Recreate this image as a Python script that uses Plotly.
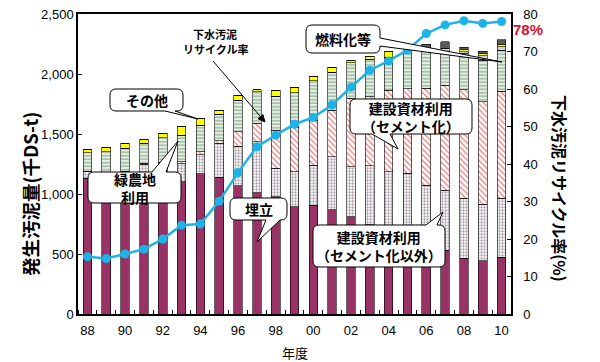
import math
import plotly.graph_objects as go

# ---------------- data ----------------
years = [1988, 1989, 1990, 1991, 1992, 1993, 1994, 1995, 1996, 1997, 1998, 1999,
         2000, 2001, 2002, 2003, 2004, 2005, 2006, 2007, 2008, 2009, 2010]
tick_years = [1988, 1990, 1992, 1994, 1996, 1998, 2000, 2002, 2004, 2006, 2008, 2010]
tick_labels = ["88", "90", "92", "94", "96", "98", "00", "02", "04", "06", "08", "10"]

landfill = [1131, 1110, 1120, 1135, 1130, 1102, 1167, 1139, 1069, 1011, 978, 894,
            908, 867, 811, 742, 737, 640, 580, 533, 464, 444, 472]
cement_other = [55, 60, 65, 115, 130, 152, 161, 286, 331, 425, 236, 292,
                333, 444, 417, 492, 448, 531, 495, 500, 500, 472, 492]
cement = [5, 5, 5, 5, 5, 14, 25, 19, 119, 153, 319, 369,
          375, 389, 569, 578, 681, 708, 806, 875, 903, 852, 894]
green_agri = [153, 178, 192, 167, 204, 222, 222, 222, 264, 264, 283, 289,
              328, 314, 297, 312, 272, 347, 336, 306, 306, 347, 342]
fuel_misc = [0, 0, 0, 0, 0, 0, 0, 0, 0, 0, 0, 0,
             0, 0, 0, 0, 0, 0, 0, 0, 13, 36, 28]
others = [28, 36, 40, 33, 36, 75, 56, 33, 42, 14, 50, 42,
          39, 42, 22, 22, 47, 0, 0, 0, 20, 20, 20]
fuel = [0, 0, 0, 0, 0, 0, 0, 0, 0, 0, 0, 0,
        0, 0, 0, 0, 0, 14, 33, 55, 17, 19, 36]
recycle_rate = [15.3, 14.8, 16.0, 17.3, 20.0, 23.7, 24.0, 30.1, 37.7, 44.6, 47.7, 50.6,
                52.4, 55.8, 60.5, 65.0, 67.5, 70.4, 74.8, 77.1, 78.2, 77.5, 78.0]

# ---------------- layout constants ----------------
W, H = 600, 362
L, R, T, B = 78, 89, 14, 48
PW, PH = W - L - R, H - T - B
JP = "Noto Sans CJK JP"
NUM = "Liberation Sans, Arial, " + JP


def px(x):
    return (x - L) / PW


def py(y):
    return (T + PH - y) / PH


def P(x, y):
    return f"{px(x):.5f},{py(y):.5f}"


fig = go.Figure()
BW = 0.46
edge = dict(color="black", width=0.6)

fig.add_bar(x=years, y=landfill, name="埋立", width=BW,
            marker=dict(color="#993366", line=edge))
fig.add_bar(x=years, y=cement_other, name="建設資材利用（セメント化以外）", width=BW,
            marker=dict(color="white", line=edge,
                        pattern=dict(shape=".", fgcolor="#a8a0a8", bgcolor="white",
                                     size=3, solidity=0.45)))
fig.add_bar(x=years, y=cement, name="建設資材利用（セメント化）", width=BW,
            marker=dict(color="white", line=edge,
                        pattern=dict(shape="\\", fgcolor="#e87878", bgcolor="white",
                                     size=4, solidity=0.3)))
fig.add_bar(x=years, y=green_agri, name="緑農地利用", width=BW,
            marker=dict(color="#dcebdc", line=edge,
                        pattern=dict(shape="-", fgcolor="#8fae92", bgcolor="#e2eee2",
                                     size=3.5, solidity=0.35)))
fig.add_bar(x=years, y=fuel_misc, name="燃料化等（その他）", width=BW,
            marker=dict(color="#cfcff2", line=edge))
fig.add_bar(x=years, y=others, name="その他", width=BW,
            marker=dict(color="#ffff00", line=edge))
fig.add_bar(x=years, y=fuel, name="燃料化等", width=BW,
            marker=dict(color="#5a5a5a", line=edge))

fig.add_scatter(x=years, y=recycle_rate, yaxis="y2", name="下水汚泥リサイクル率",
                mode="lines+markers",
                line=dict(color="#1cb3ea", width=2.5),
                marker=dict(color="#1cb3ea", size=9, symbol="circle"))

fig.update_layout(
    template="none",
    width=W, height=H,
    margin=dict(l=L, r=R, t=T, b=B, autoexpand=False),
    barmode="stack",
    showlegend=False,
    plot_bgcolor="white", paper_bgcolor="white",
    font=dict(family=NUM, size=13, color="black"),
    xaxis=dict(range=[1987.5, 2010.5], tickvals=tick_years, ticktext=tick_labels,
               ticks="", showgrid=False, zeroline=False, automargin=False,
               showline=True, linecolor="black", linewidth=1.5, mirror=True,
               ticklabelstandoff=4,
               minor=dict(tickmode="linear", tick0=1987.5, dtick=1, ticks="inside",
                          ticklen=4, tickcolor="black", showgrid=False),
               tickfont=dict(family=NUM, size=13)),
    yaxis=dict(range=[0, 2500], dtick=500, tickformat=",", ticks="inside",
               ticklen=4, tickcolor="black", showgrid=False, zeroline=False,
               automargin=False,
               showline=True, linecolor="black", linewidth=1.5,
               tickfont=dict(family=NUM, size=13)),
    yaxis2=dict(range=[0, 80], dtick=10, overlaying="y", side="right",
                ticks="inside", ticklen=4, tickcolor="black", showgrid=False,
                zeroline=False, showline=True, linecolor="black", linewidth=1.5,
                automargin=False, ticklabelstandoff=8,
                tickfont=dict(family=NUM, size=13)),
)

ann = []
shapes = []


def text_at(cx, cy, text, size, family=JP, color="black", angle=0):
    ann.append(dict(x=px(cx), y=py(cy), xref="paper", yref="paper", text=text,
                    xanchor="center", yanchor="middle", textangle=angle,
                    showarrow=False, align="center",
                    font=dict(family=family, size=size, color=color)))


text_at(30, 194, "<b>発生汚泥量(千DS-t)</b>", 18.5, angle=-90)
text_at(560, 188, "<b>下水汚泥リサイクル率(%)</b>", 16, angle=90)
text_at(295, 352, "年度", 13)
text_at(528, 29, "<b>78%</b>", 15, family="Liberation Sans, Arial", color="#d8102c")
text_at(215, 34, "<b>下水汚泥</b>", 11)
text_at(215, 49, "<b>リサイクル率</b>", 11)

# arrow from the recycle-rate label (drawn as shapes)
sx, sy, ex, ey = 213, 61, 265, 122
dx, dy = ex - sx, ey - sy
ln = math.hypot(dx, dy)
ux, uy = dx / ln, dy / ln
bx, by = ex - 7 * ux, ey - 7 * uy
shapes.append(dict(type="path", path=f"M {P(sx, sy)} L {P(bx, by)}",
                   xref="paper", yref="paper", line=dict(color="black", width=1), layer="above"))
shapes.append(dict(type="path",
                   path=f"M {P(ex, ey)} L {P(bx - 3.2 * uy, by + 3.2 * ux)} L {P(bx + 3.2 * uy, by - 3.2 * ux)} Z",
                   xref="paper", yref="paper", fillcolor="black",
                   line=dict(color="black", width=1), layer="above"))


def callout(x0, y0, x1, y1, side, a, b, tip, r=6):
    """rounded box with speech-bubble tail; pixel coords converted to paper"""
    tx, ty = tip
    d = f"M {P(x0 + r, y0)}"
    if side == "top":
        d += f" L {P(a, y0)} L {P(tx, ty)} L {P(b, y0)}"
    d += f" L {P(x1 - r, y0)} Q {P(x1, y0)} {P(x1, y0 + r)}"
    if side == "right":
        d += f" L {P(x1, a)} L {P(tx, ty)} L {P(x1, b)}"
    d += f" L {P(x1, y1 - r)} Q {P(x1, y1)} {P(x1 - r, y1)}"
    if side == "bottom":
        d += f" L {P(b, y1)} L {P(tx, ty)} L {P(a, y1)}"
    d += f" L {P(x0 + r, y1)} Q {P(x0, y1)} {P(x0, y1 - r)}"
    d += f" L {P(x0, y0 + r)} Q {P(x0, y0)} {P(x0 + r, y0)} Z"
    shapes.append(dict(type="path", path=d, xref="paper", yref="paper",
                       fillcolor="white", line=dict(color="black", width=1), layer="above"))


callout(110, 89, 183, 111, "bottom", 165, 175, (198, 119))
text_at(146.5, 100, "<b>その他</b>", 14)
callout(88, 172, 181, 203, "top", 152, 166, (178, 141))
text_at(134.5, 187.5, "<b>緑農地<br>利用</b>", 14)
callout(306, 25, 380, 53, "right", 38, 46, (502, 62))
text_at(343, 39, "<b>燃料化等</b>", 14)
callout(350, 99, 472, 134, "bottom", 372, 390, (398, 149))
text_at(411, 116.5, "<b>建設資材利用<br>（セメント化）</b>", 14)
callout(230, 198, 287, 220, "bottom", 266, 280, (257, 242))
text_at(258.5, 209, "<b>埋立</b>", 14)
callout(313, 225, 445, 267, "top", 426, 437, (443, 212))
text_at(379, 246, "<b>建設資材利用<br>（セメント化以外）</b>", 14)

fig.update_layout(annotations=ann, shapes=shapes)
fig.write_html("out.html", config={"displayModeBar": False},
               post_script="document.body.style.margin='0px';document.body.style.padding='0px';")
